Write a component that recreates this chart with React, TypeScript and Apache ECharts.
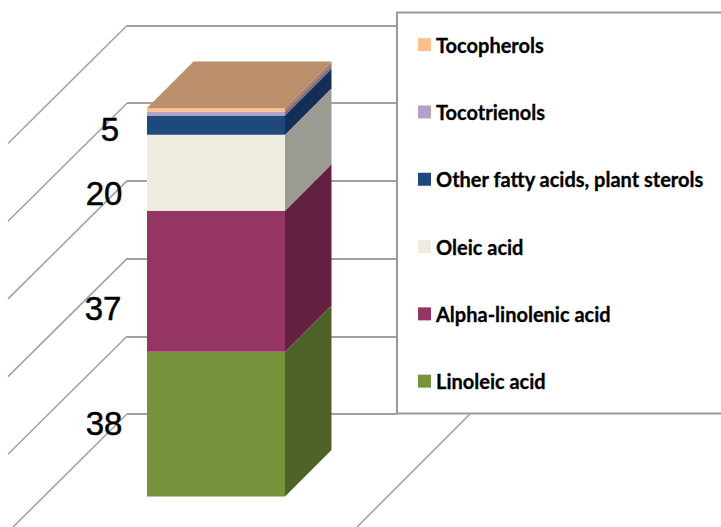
import React, { useEffect, useRef } from "react";
import * as echarts from "echarts";

const categories = ["Oil"];
const seriesNames = ["Linoleic acid", "Alpha-linolenic acid", "Oleic acid", "Other fatty acids, plant sterols", "Tocotrienols", "Tocopherols"];
const seriesValues = [38, 37, 20, 5, 1, 1];
const labelTexts = ["38", "37", "20", "5", "", ""];
const wallTicks = [0, 20, 40, 60, 80, 100];
const legendOrder = ["Tocopherols", "Tocotrienols", "Other fatty acids, plant sterols", "Oleic acid", "Alpha-linolenic acid", "Linoleic acid"];

const frontColors = ["#77933C", "#953564", "#EEECE1", "#1F497D", "#B3A2C7", "#FAC090"];
const sideColors = ["#4F6228", "#632040", "#9C9B93", "#142F54", "#776C85", "#A68060"];
const topColor = "#BB8F6C";
const labelShift = [-1, 27, 21, 4];
const labelX = [104, 103, 104, 110];
const DEPTH = 46.5;
const LINE = "#A0A0A0";

export default function App() {
  const ref = useRef<HTMLDivElement>(null);
  useEffect(() => {
    document.body.style.margin = "0";
    const chart = echarts.init(ref.current!, undefined, { renderer: "svg" });
    let acc = 0;
    const segs = seriesValues.map((v) => {
      const s = [acc, acc + v];
      acc += v;
      return s;
    });
    const total = acc;
    const barSeries = seriesNames.map((name, i) => ({
      type: "custom",
      name,
      xAxisIndex: 0,
      yAxisIndex: 0,
      z: 5,
      itemStyle: { color: frontColors[i] },
      data: [[0, segs[i][0], segs[i][1]]],
      renderItem: (_p: any, api: any) => {
        const c0 = api.coord([api.value(0), api.value(1)]);
        const c1 = api.coord([api.value(0), api.value(2)]);
        const w = api.size([1, 0])[0];
        const l = c0[0] - w / 2;
        const r = c0[0] + w / 2;
        const children: any[] = [
          { type: "rect", shape: { x: l, y: c1[1], width: w, height: c0[1] - c1[1] }, style: { fill: frontColors[i] } },
          {
            type: "polygon",
            shape: { points: [[r, c0[1]], [r + DEPTH, c0[1] - DEPTH], [r + DEPTH, c1[1] - DEPTH], [r, c1[1]]] },
            style: { fill: sideColors[i] },
          },
        ];
        if (i === seriesNames.length - 1) {
          children.push({
            type: "polygon",
            shape: { points: [[l, c1[1]], [r, c1[1]], [r + DEPTH, c1[1] - DEPTH], [l + DEPTH, c1[1] - DEPTH]] },
            style: { fill: topColor },
          });
        }
        if (labelTexts[i]) {
          children.push({
            type: "text",
            z2: 50,
            style: {
              text: labelTexts[i],
              x: labelX[i],
              y: (c0[1] + c1[1]) / 2 + labelShift[i],
              fill: "#000",
              stroke: "#000",
              lineWidth: 0.5,
              font: '33px "Liberation Sans"',
              align: "center",
              verticalAlign: "middle",
            },
          });
        }
        return { type: "group", children };
      },
    }));
    chart.setOption({
      animation: false,
      backgroundColor: "#fff",
      grid: [
        { left: 147, width: 138, top: 108, height: 388.5 },
        { left: 127, width: 270, top: 25.5, height: 388.5 },
      ],
      xAxis: [
        { type: "category", gridIndex: 0, data: categories, show: false },
        { type: "category", gridIndex: 1, data: categories, show: false },
      ],
      yAxis: [
        { type: "value", gridIndex: 0, min: 0, max: total, show: false },
        {
          type: "value",
          gridIndex: 1,
          min: 0,
          max: 100,
          interval: 20,
          axisLine: { show: false },
          axisTick: { show: false },
          axisLabel: { show: false },
          splitLine: { show: true, lineStyle: { color: LINE, width: 2 } },
        },
      ],
      legend: {
        orient: "vertical",
        left: 418,
        top: 34.5,
        padding: 0,
        itemWidth: 13,
        itemHeight: 13,
        itemGap: 47,
        icon: "rect",
        data: legendOrder,
        textStyle: { color: "#000", fontFamily: "Lato", fontWeight: "bold", fontSize: 20, textBorderColor: "#000", textBorderWidth: 0.3 },
      },
      graphic: [
        { type: "rect", z: 1, shape: { x: 397, y: 12.5, width: 340, height: 401 }, style: { fill: "#fff", stroke: "#999", lineWidth: 2 } },
        { type: "line", z: 1, shape: { x1: 470, y1: 414, x2: 357, y2: 527 }, style: { stroke: LINE, lineWidth: 1.5 } },
      ],
      series: [
        {
          type: "custom",
          name: "walls",
          xAxisIndex: 1,
          yAxisIndex: 1,
          z: 1,
          silent: true,
          data: wallTicks.map((t) => [0, t]),
          renderItem: (_p: any, api: any) => {
            const c = api.coord([api.value(0), api.value(1)]);
            const x0 = c[0] - api.size([1, 0])[0] / 2;
            return {
              type: "line",
              shape: { x1: x0, y1: c[1], x2: x0 - 119, y2: c[1] + 118 },
              style: { stroke: LINE, lineWidth: 1.5 },
            };
          },
        },
        ...barSeries,
      ],
    });
    return () => chart.dispose();
  }, []);
  return <div ref={ref} style={{ position: "absolute", left: 0, top: 0, width: 721, height: 527 }} />;
}
